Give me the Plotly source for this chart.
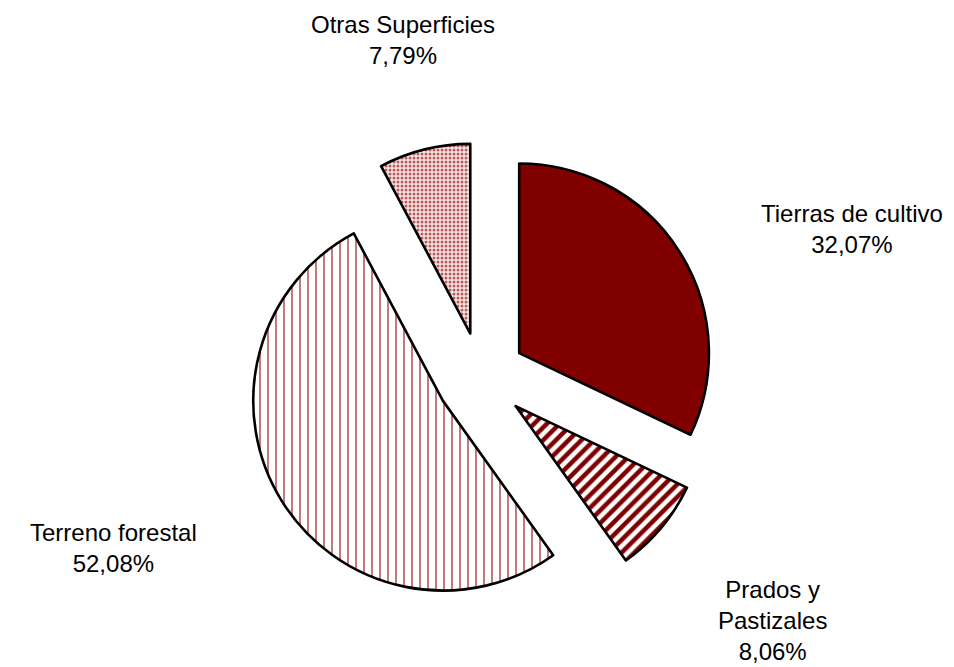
import plotly.graph_objects as go

categories = ["Tierras de cultivo", "Prados y<br>Pastizales", "Terreno forestal", "Otras Superficies"]
values = [32.07, 8.06, 52.08, 7.79]

fill_colors = ["#800000", "white", "white", "#f8e8e8"]
pattern_shapes = ["", "/", "|", "."]
pattern_fg = ["#800000", "#800000", "rgba(139,0,0,0.65)", "rgba(165,42,42,0.75)"]
pattern_size = [8, 9, 8, 4]
pattern_solidity = [0.3, 0.5, 0.2, 0.45]

# label anchor positions (paper coords) for outside labels
label_pos = [(0.885, 0.669), (0.801, 0.082), (0.111, 0.190), (0.414, 0.952)]

fig = go.Figure(go.Pie(
    labels=categories,
    values=values,
    sort=False,
    direction="clockwise",
    rotation=0,
    pull=[0.237] * 4,
    textinfo="none",
    hoverinfo="label+percent",
    marker=dict(
        colors=fill_colors,
        line=dict(color="black", width=2.6),
        pattern=dict(shape=pattern_shapes, fgcolor=pattern_fg, bgcolor=fill_colors,
                     size=pattern_size, solidity=pattern_solidity, fillmode="replace",
                     fgopacity=1),
    ),
    domain=dict(x=[0.250, 0.742], y=[0.094, 0.799]),
    showlegend=False,
))

for cat, v, (x, y) in zip(categories, values, label_pos):
    txt = f"{cat}<br>{v:.2f}%".replace(".", ",")
    fig.add_annotation(x=x, y=y, xref="paper", yref="paper", text=txt, showarrow=False,
                       font=dict(family="Liberation Sans, Arial", size=24, color="black"),
                       align="center", xanchor="center", yanchor="middle")

fig.update_layout(
    width=954, height=667,
    margin=dict(l=0, r=0, t=0, b=0),
    paper_bgcolor="white", plot_bgcolor="white",
)
fig.write_html("out.html")
